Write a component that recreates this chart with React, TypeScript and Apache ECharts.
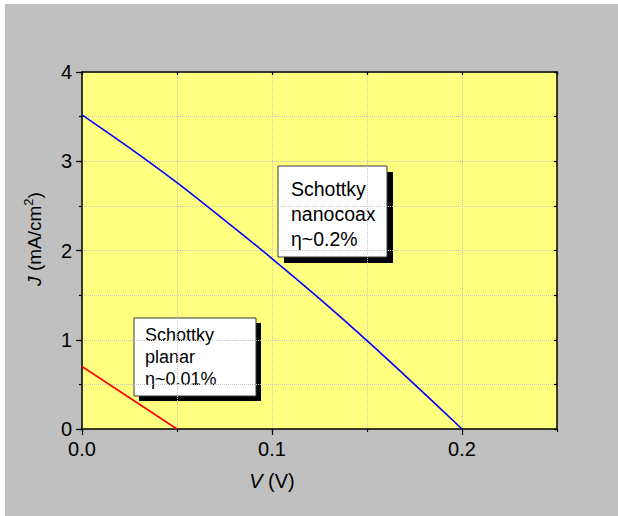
import React, { useEffect, useRef } from "react";
import * as echarts from "echarts";

// J–V curves of the Schottky nanocoax and planar cells
const voltageNanocoax = [0, 0.025, 0.05, 0.075, 0.1, 0.125, 0.15, 0.175, 0.2];
const currentNanocoax = [3.52, 3.15, 2.76, 2.34, 1.91, 1.46, 0.99, 0.5, 0];
const voltagePlanar = [0, 0.05];
const currentPlanar = [0.7, 0];

const xMajorTicks = [0, 0.1, 0.2];
const yMajorTicks = [0, 1, 2, 3, 4];

const nanocoaxNote = ["Schottky", "nanocoax", "η~0.2%"];
const planarNote = ["Schottky", "planar", "η~0.01%"];

const FONT = "'Liberation Sans', Arial, Helvetica, sans-serif";
const PLOT_BG = "#ffff80";
const PAGE_BG = "#c0c0c0";
const GRID_LINE = { show: true, lineStyle: { color: "#c4c4c4", type: "dotted" as const, width: 1 } };

function pairs(xs: number[], ys: number[]) {
  return xs.map((x, i) => [x, ys[i]]);
}

function noteBox(
  x: number,
  y: number,
  w: number,
  h: number,
  shadow: number,
  lines: string[],
  fontSize: number,
  lineHeight: number,
  padX: number,
  padY: number
) {
  return {
    type: "group",
    x,
    y,
    children: [
      { type: "rect", shape: { x: shadow, y: shadow, width: w, height: h }, style: { fill: "#000" } },
      { type: "rect", shape: { x: 0, y: 0, width: w, height: h }, style: { fill: "#fff", stroke: "#3a3a3a", lineWidth: 1 } },
      {
        type: "text",
        x: padX,
        y: padY,
        style: {
          text: lines.join("\n"),
          fontFamily: FONT,
          fontSize,
          lineHeight,
          fill: "#000",
          textAlign: "left",
          textVerticalAlign: "top",
        },
      },
    ],
  };
}

export default function App() {
  const ref = useRef<HTMLDivElement>(null);

  useEffect(() => {
    if (!ref.current) return;
    const chart = echarts.init(ref.current, null, { renderer: "svg" });
    const gridRect = { left: 77, top: 68, right: 61, bottom: 87 };

    chart.setOption({
      animation: false,
      backgroundColor: PAGE_BG,
      textStyle: { fontFamily: FONT },
      grid: [
        { ...gridRect, show: true, backgroundColor: PLOT_BG, borderWidth: 0, containLabel: false },
        { ...gridRect, show: false, containLabel: false },
      ],
      xAxis: [
        {
          type: "value",
          gridIndex: 0,
          position: "bottom",
          min: 0,
          max: 0.25,
          interval: 0.05,
          axisLine: { show: true, onZero: false, lineStyle: { color: "#000", width: 1.5 } },
          axisTick: { show: true, inside: false, length: 3, lineStyle: { color: "#000", width: 1.2 } },
          axisLabel: { show: false },
          splitLine: GRID_LINE,
        },
        {
          type: "value",
          gridIndex: 0,
          position: "top",
          min: 0,
          max: 0.25,
          interval: 0.05,
          axisLine: { show: true, onZero: false, lineStyle: { color: "#000", width: 1.5 } },
          axisTick: { show: true, inside: true, length: 3, lineStyle: { color: "#000", width: 1.2 } },
          axisLabel: { show: false },
          splitLine: { show: false },
        },
        {
          type: "value",
          gridIndex: 1,
          position: "bottom",
          min: 0,
          max: 0.25,
          interval: 0.1,
          axisLine: { show: false, onZero: false },
          axisTick: { show: true, inside: false, length: 6, customValues: xMajorTicks, lineStyle: { color: "#000", width: 1.2 } },
          axisLabel: {
            show: true,
            customValues: xMajorTicks,
            margin: 10,
            fontSize: 20,
            fontFamily: FONT,
            color: "#000",
            formatter: (v: number) => v.toFixed(1),
          },
          splitLine: { show: false },
          name: "{i|V} (V)",
          nameLocation: "middle",
          nameGap: 42,
          nameTextStyle: {
            fontSize: 20,
            fontFamily: FONT,
            color: "#000",
            padding: [0, 95, 0, 0],
            rich: { i: { fontStyle: "italic", fontSize: 20, fontFamily: FONT, color: "#000" } },
          },
        },
      ],
      yAxis: [
        {
          type: "value",
          gridIndex: 0,
          position: "left",
          min: 0,
          max: 4,
          interval: 0.5,
          axisLine: { show: true, onZero: false, lineStyle: { color: "#000", width: 1.5 } },
          axisTick: { show: true, inside: false, length: 3, lineStyle: { color: "#000", width: 1.2 } },
          axisLabel: { show: false },
          splitLine: GRID_LINE,
        },
        {
          type: "value",
          gridIndex: 0,
          position: "right",
          min: 0,
          max: 4,
          interval: 0.5,
          axisLine: { show: true, onZero: false, lineStyle: { color: "#000", width: 1.5 } },
          axisTick: { show: true, inside: true, length: 3, lineStyle: { color: "#000", width: 1.2 } },
          axisLabel: { show: false },
          splitLine: { show: false },
        },
        {
          type: "value",
          gridIndex: 1,
          position: "left",
          min: 0,
          max: 4,
          interval: 1,
          axisLine: { show: false, onZero: false },
          axisTick: { show: true, inside: false, length: 6, customValues: yMajorTicks, lineStyle: { color: "#000", width: 1.2 } },
          axisLabel: { show: true, margin: 10, fontSize: 20, fontFamily: FONT, color: "#000" },
          splitLine: { show: false },
          name: "{i|J} (mA/cm{s|2})",
          nameLocation: "middle",
          nameGap: 36,
          nameTextStyle: {
            fontSize: 19,
            fontFamily: FONT,
            color: "#000",
            lineHeight: 24,
            padding: [0, 0, 0, 23],
            rich: {
              i: { fontStyle: "italic", fontSize: 19, fontFamily: FONT, color: "#000", lineHeight: 24 },
              s: { fontSize: 13, fontFamily: FONT, color: "#000", verticalAlign: "top", lineHeight: 13 },
            },
          },
        },
      ],
      series: [
        {
          name: "Schottky nanocoax",
          type: "line",
          xAxisIndex: 0,
          yAxisIndex: 0,
          data: pairs(voltageNanocoax, currentNanocoax),
          showSymbol: false,
          smooth: 0.3,
          lineStyle: { color: "#0000ff", width: 1.6 },
          z: 3,
        },
        {
          name: "Schottky planar",
          type: "line",
          xAxisIndex: 0,
          yAxisIndex: 0,
          data: pairs(voltagePlanar, currentPlanar),
          showSymbol: false,
          lineStyle: { color: "#ff0000", width: 1.6 },
          z: 3,
        },
      ],
      graphic: [
        noteBox(273, 162, 109, 91, 6, nanocoaxNote, 19.5, 25, 13, 10),
        noteBox(129, 314, 122, 78, 5, planarNote, 18, 22, 11, 6),
      ],
    });

    return () => chart.dispose();
  }, []);

  return (
    <div style={{ position: "fixed", left: 0, top: 0, width: 618, height: 516, background: "#fff" }}>
      <div ref={ref} style={{ position: "absolute", left: 5, top: 4, width: 613, height: 512 }} />
    </div>
  );
}
